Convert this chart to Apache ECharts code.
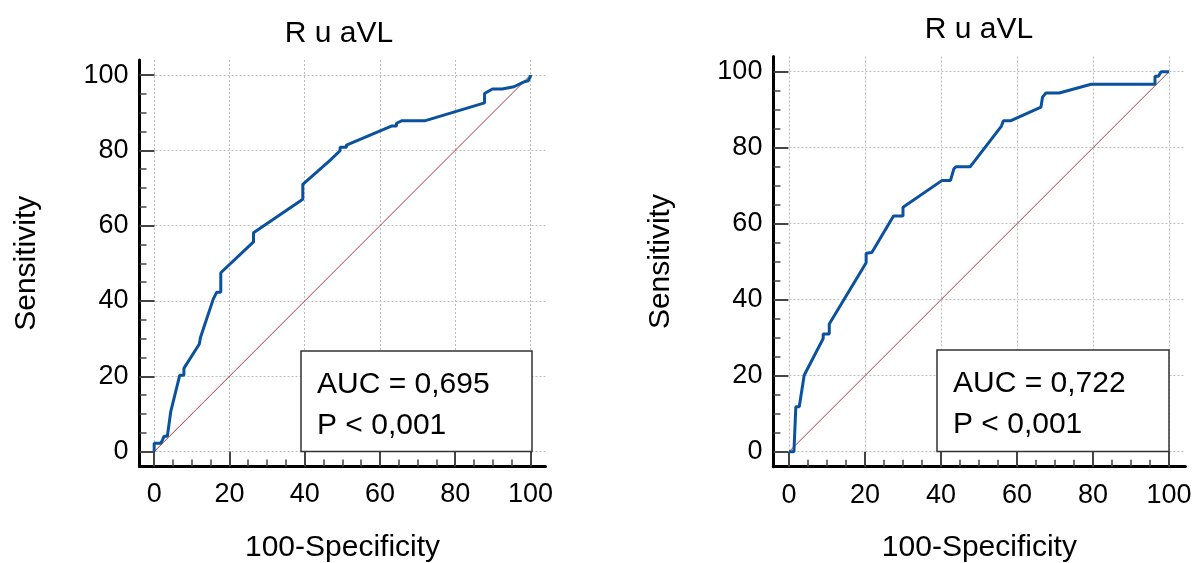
<!DOCTYPE html>
<html><head><meta charset="utf-8">
<script src="https://cdn.jsdelivr.net/npm/echarts@6/dist/echarts.min.js"></script>
<style>html,body{margin:0;padding:0;background:#fff}#c{width:1197px;height:563px}</style>
</head><body><div id="c"></div>
<script>
const titleText = 'R u aVL';
const xAxisName = '100-Specificity';
const yAxisName = 'Sensitivity';
const majorTicks = [0, 20, 40, 60, 80, 100];
const minorTicks = [5, 10, 15, 25, 30, 35, 45, 50, 55, 65, 70, 75, 85, 90, 95];

const leftX = [0, 0, 1.7, 2.2, 2.6, 3.5, 4.4, 6.8, 7.9, 7.9, 12, 12.3, 15.7, 16.6, 17.7, 17.7, 26.4, 26.4, 39.5, 39.5, 46.8, 49.4, 49.4, 51.1, 51.1, 63.2, 64.4, 64.4, 65.9, 72.1, 87.8, 87.8, 89.9, 92.5, 95.6, 98.3, 99.4, 100, 100];
const leftY = [0, 2.2, 2.2, 3, 4.1, 4.1, 10.6, 20.3, 20.3, 22.1, 28.6, 30.3, 40.5, 42.3, 42.3, 47.5, 55.7, 58.1, 67, 71, 77.4, 79.9, 80.8, 80.8, 81.4, 86.5, 86.5, 87.2, 87.9, 87.9, 92.6, 95.1, 96.3, 96.3, 96.9, 98.2, 98.5, 99.6, 100];

const rightX = [0, 1.3, 1.8, 2.7, 4.0, 9.0, 9.0, 10.6, 10.6, 20.3, 20.3, 21.8, 27.5, 30.0, 30.0, 40.3, 42.5, 43.4, 44.0, 47.7, 55.9, 56.4, 58.4, 66.3, 66.7, 67.6, 71.1, 79.5, 96.3, 96.3, 97.2, 97.9, 100];
const rightY = [0, 0, 11.8, 11.8, 20.1, 29.8, 31, 31, 33.6, 49.7, 52.2, 52.4, 62, 62, 64.3, 71.4, 71.4, 74.5, 75, 75, 85.7, 87.1, 87.1, 90.7, 93.3, 94.4, 94.4, 96.7, 96.7, 98.8, 98.8, 100, 100];

const diagX = [0, 100];
const diagY = [0, 100];

const leftStats = ['AUC = 0,695', 'P < 0,001'];
const rightStats = ['AUC = 0,722', 'P < 0,001'];

const FONT = 'Liberation Sans, Arial, sans-serif';
const pairs = (xs, ys) => xs.map((x, i) => [x, ys[i]]);

function axes(dim, gridIndex, min, max, nameGap) {
  const isX = dim === 'x';
  const major = {
    type: 'value', gridIndex, min, max,
    position: isX ? 'bottom' : 'left',
    name: isX ? xAxisName : yAxisName,
    nameLocation: 'middle', nameGap,
    nameTextStyle: { fontFamily: FONT, fontSize: 30, color: '#000' },
    axisLine: { show: true, onZero: false, lineStyle: { color: '#000', width: 3 } },
    axisTick: { show: true, inside: true, length: 15, customValues: majorTicks, lineStyle: { color: '#444', width: 2 } },
    axisLabel: { show: true, customValues: majorTicks, fontFamily: FONT, fontSize: 27, color: '#000', margin: isX ? 15 : 11 },
    splitLine: { show: true, lineStyle: { type: [2, 2], color: '#bdbdbd', width: 1 } },
    minorTick: { show: false }
  };
  const minor = {
    type: 'value', gridIndex, min, max,
    position: isX ? 'bottom' : 'left',
    axisLine: { show: false, onZero: false },
    axisTick: { show: true, inside: true, length: 7, customValues: minorTicks, lineStyle: { color: '#444', width: 1.5 } },
    axisLabel: { show: false },
    splitLine: { show: false }
  };
  return [major, minor];
}

const chart = echarts.init(document.getElementById('c'), null, { renderer: 'canvas' });

const xAxes = [...axes('x', 0, -3.9, 104, 66), ...axes('x', 1, -4.1, 104.3, 66)];
const yAxes = [...axes('y', 0, -3.95, 104, 98), ...axes('y', 1, -3.95, 104, 98)];

function statBox(x, y, w, h, lines) {
  return [
    { type: 'rect', z: 100, shape: { x, y, width: w, height: h }, style: { fill: '#fff', stroke: '#333', lineWidth: 1.5 } },
    { type: 'text', z: 101, x: x + 16, y: y + 34, style: { text: lines[0], font: '30px ' + FONT, fill: '#000', textVerticalAlign: 'middle' } },
    { type: 'text', z: 101, x: x + 16, y: y + 75, style: { text: lines[1], font: '30px ' + FONT, fill: '#000', textVerticalAlign: 'middle' } }
  ];
}

chart.setOption({
  animation: false,
  backgroundColor: '#fff',
  title: [
    { text: titleText, left: 334, top: 14, textAlign: 'center', textStyle: { fontFamily: FONT, fontSize: 30, fontWeight: 'normal', color: '#000' } },
    { text: titleText, left: 974, top: 10, textAlign: 'center', textStyle: { fontFamily: FONT, fontSize: 30, fontWeight: 'normal', color: '#000' } }
  ],
  grid: [
    { left: 139.5, top: 60, width: 406, height: 406.5, outerBoundsMode: 'none', containLabel: false },
    { left: 773.4, top: 56.5, width: 412, height: 410.2, outerBoundsMode: 'none', containLabel: false }
  ],
  xAxis: xAxes,
  yAxis: yAxes,
  series: [
    { type: 'line', xAxisIndex: 0, yAxisIndex: 0, data: pairs(diagX, diagY), showSymbol: false, lineStyle: { color: '#b23a3a', width: 1 }, z: 2 },
    { type: 'line', xAxisIndex: 0, yAxisIndex: 0, data: pairs(leftX, leftY), showSymbol: false, lineStyle: { color: '#0a519e', width: 3 }, z: 3 },
    { type: 'line', xAxisIndex: 2, yAxisIndex: 2, data: pairs(diagX, diagY), showSymbol: false, lineStyle: { color: '#b23a3a', width: 1 }, z: 2 },
    { type: 'line', xAxisIndex: 2, yAxisIndex: 2, data: pairs(rightX, rightY), showSymbol: false, lineStyle: { color: '#0a519e', width: 3 }, z: 3 }
  ],
  graphic: [
    ...statBox(301, 351, 231, 100.5, leftStats),
    ...statBox(937, 350, 232, 101.5, rightStats)
  ]
});
</script>
</body></html>
